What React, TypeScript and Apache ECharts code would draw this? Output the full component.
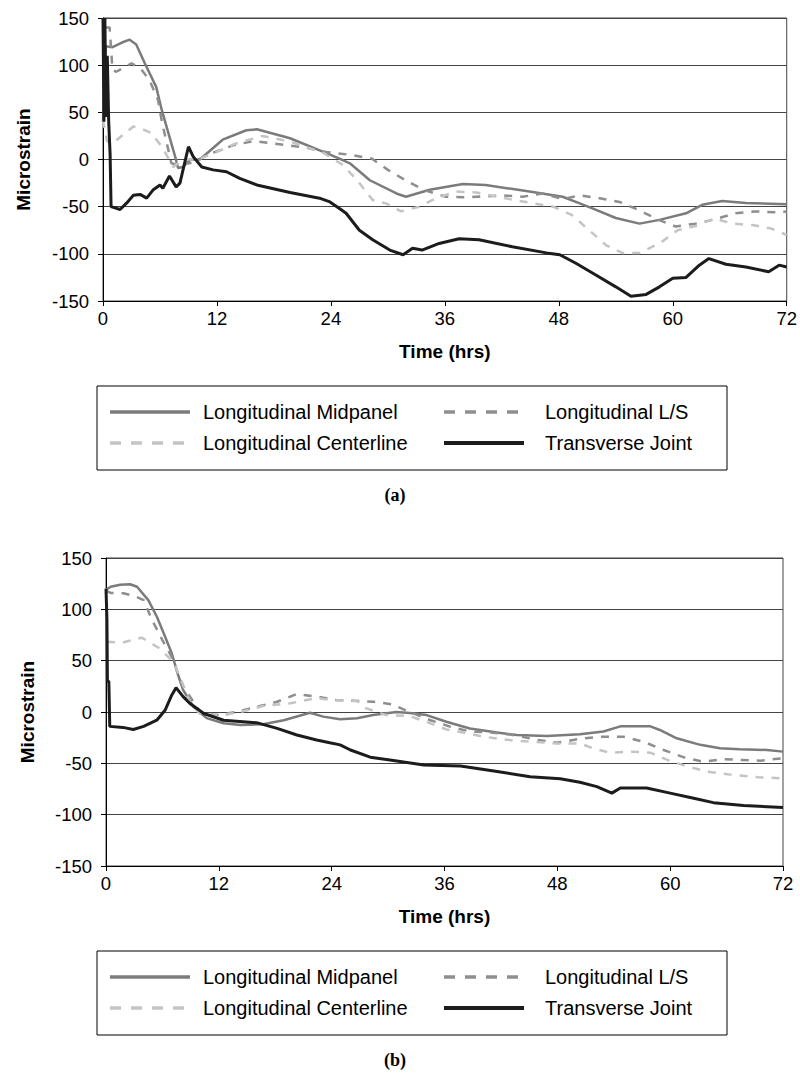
import React, { useEffect, useRef } from "react";
import * as echarts from "echarts";

// Axis ranges and tick spacing
const hourMin = 0;
const hourMax = 72;
const hourStep = 12;
const strainMin = -150;
const strainMax = 150;
const strainStep = 50;

const seriesNames = [
  "Longitudinal Midpanel",
  "Longitudinal L/S",
  "Longitudinal Centerline",
  "Transverse Joint",
];

// Panel (a): [time in hours, microstrain]
const midpanelA = [
  [0, 40], [0.3, 120], [1, 119], [2, 124], [2.8, 127], [3.5, 122], [4.4, 102], [5.6, 77],
  [6.2, 52], [7.0, 24], [7.6, 3], [7.9, -9], [8.4, -8], [9.2, 0], [10.2, 0], [12.6, 21],
  [15.1, 31], [16.2, 32], [19.7, 22.5], [23.2, 8], [24.9, 1], [26, -4], [28.1, -22],
  [30.9, -36], [31.9, -39.5], [34.4, -32], [37.9, -26], [40.3, -27], [44.9, -34],
  [48.4, -39.5], [50.2, -46.5], [51.6, -52], [54, -62], [56.5, -68], [58.6, -64],
  [61.4, -57], [63.1, -48], [65.2, -44], [67.7, -46], [72, -47.5],
];
const lsA = [
  [0.3, 140], [0.7, 140], [1.0, 95], [1.4, 93], [3.0, 102], [4.0, 96], [4.9, 84], [5.8, 63],
  [6.2, 40], [7.2, -4], [8.0, -6], [9.5, -3], [11, 5], [13.7, 15], [15.8, 19.5], [17.9, 17],
  [21.4, 12.5], [23.5, 8], [26, 5], [28.3, 1], [30, -11], [32.1, -23.5], [34, -33],
  [36.1, -39.5], [38.3, -40], [40.3, -39], [42, -38], [44.2, -39.5], [46.3, -36], [48.4, -42],
  [50.2, -38], [52.3, -41], [54.4, -45], [56.5, -54], [58.5, -64], [60.3, -71], [62.4, -68],
  [64.4, -63.5], [66.6, -57], [68.7, -55], [70.8, -56], [72, -55],
];
const centerlineA = [
  [0, 42], [0.4, 20], [0.7, 17.5], [1.4, 20.5], [3.2, 35], [4.2, 32], [5.1, 28], [6.2, 13.5],
  [7.4, -8], [8.4, 0], [10, 0], [12, 8], [14, 17], [16.8, 25], [19.7, 19], [23.2, 7],
  [25.3, -6], [27, -25], [28.4, -43], [29.8, -46.5], [31.4, -55], [33.3, -50], [35.1, -41],
  [37.2, -34], [39.3, -35], [42.8, -42], [45.3, -46.5], [47.4, -50], [49.4, -59], [51.2, -75],
  [53, -91], [54.7, -99], [56.5, -99], [58.6, -89], [60.5, -75], [62.4, -70.5], [64.4, -62.5],
  [66.3, -68], [68.4, -69.5], [70.3, -73], [72, -80],
];
const jointA = [
  [0, 150], [0.1, 40], [0.2, 150], [0.3, 45], [0.45, 110], [0.6, 40], [0.75, 5], [0.85, -50],
  [1.8, -53], [2.5, -46], [3.2, -38], [3.9, -37], [4.6, -41], [5.3, -32], [6.0, -27],
  [6.3, -30.5], [7.0, -17.5], [7.7, -29], [8.1, -25], [9.0, 13.5], [9.5, 3], [10.4, -8],
  [11.6, -11], [13, -13], [14.4, -20], [16.2, -27], [19.7, -35], [22.8, -41], [23.9, -45],
  [24.9, -52], [25.6, -57], [27, -75], [28.4, -85], [30.2, -96], [31.6, -101], [32.6, -94],
  [33.6, -96], [35.4, -89], [37.5, -84], [39.6, -85], [43.1, -92.5], [46.7, -99], [48.1, -101],
  [49.8, -110], [51.9, -122.5], [54, -135], [55.6, -145], [57.2, -143], [58.6, -135],
  [60, -126], [61.4, -125], [62.8, -112], [63.8, -105], [65.6, -111], [67.7, -114],
  [70.1, -119], [71.2, -112], [72, -114],
];

// Panel (b): [time in hours, microstrain]
const midpanelB = [
  [0, 119], [0.5, 122], [1.5, 124], [2.55, 124.4], [3.3, 122], [4.5, 109], [5.4, 93],
  [6.3, 73], [7.0, 57], [7.6, 38], [8.2, 21.5], [9.3, 5], [10.7, -6], [12.5, -11],
  [14.3, -12.7], [16.7, -12], [18.9, -8], [21.7, -0.7], [23.1, -4.5], [24.9, -7], [26.7, -6],
  [28.4, -3], [30.9, 0], [32.3, -1], [34.1, -3], [36.2, -9.5], [38.7, -16], [41.6, -20],
  [43.7, -22.4], [46.9, -23.4], [50.4, -21.7], [52.9, -19], [54.7, -14], [57.9, -14],
  [58.9, -17.5], [60.7, -25.6], [63.2, -32], [65.3, -35.4], [67.4, -36.4], [70.3, -37],
  [72, -38.6],
];
const lsB = [
  [0, 118], [0.5, 116], [1.85, 115.6], [3, 113], [4.0, 109], [4.9, 89.6], [6.0, 70],
  [7.1, 52], [8.0, 28], [10, 0], [11.8, -3], [13.9, 0], [16, 5], [18.2, 10], [20.3, 17.5],
  [22.4, 15], [24.5, 11.7], [28.4, 10], [30.4, 7.5], [32.3, 0], [34.5, -8], [36.6, -14.3],
  [38.7, -19], [40.9, -20], [43, -22], [45.8, -27], [47.9, -30], [50.5, -26], [52.9, -24],
  [55, -24], [57.2, -29], [59.3, -37], [61.4, -44], [63.5, -48.4], [65.7, -46], [67.7, -46.7],
  [69.6, -47.4], [72, -45],
];
const centerlineB = [
  [0.1, 68.5], [1.7, 67.5], [3.8, 72.4], [5.7, 62], [6.8, 52], [7.4, 44], [8.0, 31],
  [8.9, 10], [10, -2], [12.5, -3], [14.3, 0], [16.7, 5.8], [19.6, 8.5], [22.4, 13.6],
  [24, 11.7], [26.7, 10.7], [27.7, 3.5], [29.8, -3], [32.3, -4], [34.5, -11], [36.2, -17],
  [38, -20], [40.1, -24], [43, -27.4], [45.3, -29], [47.9, -30.6], [50.4, -30.6],
  [51.8, -35.4], [53.6, -39.6], [55.9, -38.7], [57.9, -39.6], [59.7, -46.7], [61.8, -53],
  [63.9, -58], [66.4, -61], [69.4, -63.6], [72, -64.6],
];
const jointB = [
  [0, 120], [0.1, 90], [0.15, 30], [0.3, 30], [0.4, -14], [1.8, -15], [2.9, -17], [4.0, -14],
  [5.4, -8], [6.3, 2], [7.0, 16.6], [7.45, 23.7], [8.2, 15], [8.9, 8.5], [10.4, -1.5],
  [12.5, -8], [16, -10.4], [18.2, -16], [20.3, -22.4], [22.4, -27.3], [23.8, -30],
  [24.9, -32], [26, -37], [28.1, -44], [30.2, -46.7], [33.8, -51.6], [37.7, -52.6],
  [41.6, -58], [45.1, -63], [48.3, -65], [50.4, -68.5], [52.2, -72.7], [53.8, -79],
  [54.7, -74], [57.5, -74], [60, -79], [62.5, -84], [64.6, -88.3], [67.8, -91], [72, -93],
];

const SANS = '"Liberation Sans", Arial, Helvetica, sans-serif';
const SERIF = '"Liberation Serif", "Times New Roman", serif';
const TICK_SIZE = 18.5;
const TITLE_SIZE = 19;
const KEY_SIZE = 20;

// Line look for each of the four gauges (midpanel, L/S, centerline, joint)
const lineLooks = [
  { color: "#7b7b7b", width: 2.5, dash: "solid" as any, legendDash: null as number[] | null },
  { color: "#8e8e8e", width: 2.5, dash: [8, 8] as any, legendDash: [11, 10] },
  { color: "#c4c4c4", width: 2.5, dash: [8, 8] as any, legendDash: [11, 10] },
  { color: "#1c1c1c", width: 3, dash: "solid" as any, legendDash: null },
];

function makeXAxis(gridIndex: number) {
  return {
    type: "value",
    gridIndex,
    min: hourMin,
    max: hourMax,
    interval: hourStep,
    name: "Time (hrs)",
    nameLocation: "middle",
    nameGap: 41,
    nameTextStyle: { fontFamily: SANS, fontWeight: "bold", fontSize: TITLE_SIZE, color: "#000" },
    axisLine: { show: true, onZero: false, lineStyle: { color: "#000", width: 1 } },
    axisTick: { show: true, length: 5, lineStyle: { color: "#000", width: 1 } },
    axisLabel: { fontFamily: SANS, fontSize: TICK_SIZE, color: "#000", margin: 8 },
    splitLine: { show: false },
  };
}

function makeYAxis(gridIndex: number, nameGap: number) {
  return {
    type: "value",
    gridIndex,
    min: strainMin,
    max: strainMax,
    interval: strainStep,
    name: "Microstrain",
    nameLocation: "middle",
    nameGap,
    nameRotate: 90,
    nameTextStyle: { fontFamily: SANS, fontWeight: "bold", fontSize: TITLE_SIZE, color: "#000" },
    axisLine: { show: true, onZero: false, lineStyle: { color: "#000", width: 1 } },
    axisTick: { show: true, length: 5, lineStyle: { color: "#000", width: 1 } },
    axisLabel: { fontFamily: SANS, fontSize: TICK_SIZE, color: "#000", margin: 14 },
    splitLine: { show: true, lineStyle: { color: "#444", width: 1 } },
  };
}

function makeSeries(panel: number, sets: number[][][]) {
  return sets.map((data, i) => ({
    type: "line",
    name: seriesNames[i],
    xAxisIndex: panel,
    yAxisIndex: panel,
    data,
    showSymbol: false,
    symbol: "none",
    clip: true,
    z: 2 + i,
    lineStyle: { color: lineLooks[i].color, width: lineLooks[i].width, type: lineLooks[i].dash },
  }));
}

// Boxed 2 x 2 key below each panel
function makeKey(top: number, caption: string, captionY: number) {
  const left = 97;
  const cols = [110, 444];
  const textCols = [203, 545];
  const rows = [top + 26, top + 57];
  const els: any[] = [
    {
      type: "rect",
      shape: { x: left, y: top, width: 630, height: 84 },
      style: { fill: "#fff", stroke: "#000", lineWidth: 1 },
      silent: true,
    },
  ];
  [0, 1, 2, 3].forEach((idx) => {
    const c = idx % 2;
    const r = Math.floor(idx / 2);
    const look = lineLooks[idx];
    els.push({
      type: "line",
      shape: { x1: cols[c], y1: rows[r], x2: cols[c] + 80, y2: rows[r] },
      style: {
        stroke: look.color,
        lineWidth: idx === 3 ? 4 : 3.5,
        lineDash: look.legendDash || undefined,
      },
      silent: true,
    });
    els.push({
      type: "text",
      x: textCols[c],
      y: rows[r],
      style: {
        text: seriesNames[idx],
        fill: "#000",
        font: `${KEY_SIZE}px ${SANS}`,
        textAlign: "left",
        textVerticalAlign: "middle",
      },
      silent: true,
    });
  });
  els.push({
    type: "text",
    x: 395,
    y: captionY,
    style: {
      text: caption,
      fill: "#000",
      font: `bold 18px ${SERIF}`,
      textAlign: "center",
      textVerticalAlign: "middle",
    },
    silent: true,
  });
  return els;
}

export default function App() {
  const ref = useRef<HTMLDivElement>(null);

  useEffect(() => {
    if (!ref.current) return;
    const chart = echarts.init(ref.current, undefined, { renderer: "svg" });
    chart.setOption({
      animation: false,
      backgroundColor: "#fff",
      grid: [
        { left: 103, top: 18, width: 685, height: 283, show: true, borderColor: "#444", borderWidth: 1 },
        { left: 106, top: 558, width: 677, height: 308, show: true, borderColor: "#444", borderWidth: 1 },
      ],
      xAxis: [makeXAxis(0), makeXAxis(1)],
      yAxis: [makeYAxis(0, 70), makeYAxis(1, 69)],
      series: [
        ...makeSeries(0, [midpanelA, lsA, centerlineA, jointA]),
        ...makeSeries(1, [midpanelB, lsB, centerlineB, jointB]),
      ],
      graphic: [...makeKey(386, "(a)", 495), ...makeKey(951, "(b)", 1060)],
    });
    return () => chart.dispose();
  }, []);

  return (
    <div
      ref={ref}
      style={{ position: "absolute", left: 0, top: 0, width: 800, height: 1073, background: "#fff" }}
    />
  );
}
